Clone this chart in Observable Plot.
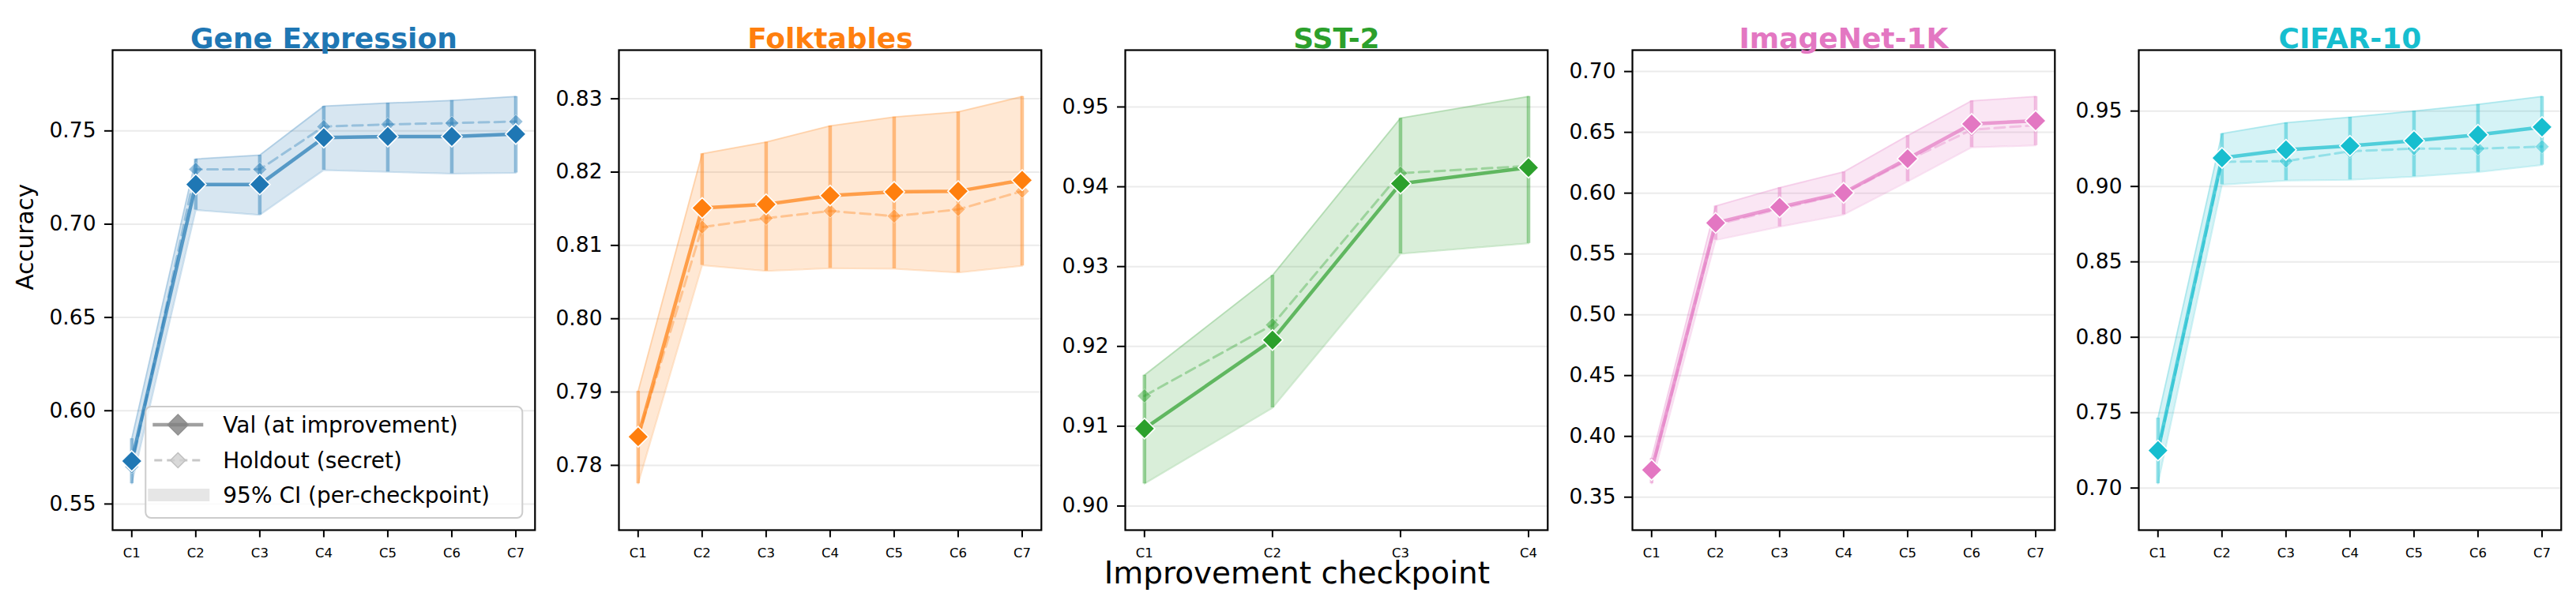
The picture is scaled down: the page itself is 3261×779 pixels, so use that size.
<!DOCTYPE html>
<html>
<head>
<meta charset="utf-8">
<script src="https://cdn.jsdelivr.net/npm/d3@7"></script>
<script src="https://cdn.jsdelivr.net/npm/@observablehq/plot@0.6"></script>
<style>
  html, body { margin: 0; padding: 0; background: #fff; }
  #fig { position: relative; width: 3261px; height: 779px; overflow: hidden; background: #fff; }
  #fig svg { position: absolute; top: 0; }
</style>
</head>
<body>
<div id="fig"></div>
<script>
// Checkpoint labels
const checkpoints7 = ["C1", "C2", "C3", "C4", "C5", "C6", "C7"];
const checkpoints4 = ["C1", "C2", "C3", "C4"];

// Gene Expression
const geneVal     = [0.5730, 0.7213, 0.7213, 0.7464, 0.7470, 0.7470, 0.7483];
const geneHoldout = [0.5700, 0.7294, 0.7294, 0.7523, 0.7535, 0.7542, 0.7550];
const geneLo      = [0.5609, 0.7076, 0.7050, 0.7290, 0.7280, 0.7271, 0.7275];
const geneHi      = [0.5850, 0.7349, 0.7370, 0.7632, 0.7649, 0.7663, 0.7684];

// Folktables
const folkVal     = [0.7839, 0.8151, 0.8156, 0.8168, 0.8173, 0.8174, 0.8189];
const folkHoldout = [0.7838, 0.8125, 0.8137, 0.8147, 0.8140, 0.8149, 0.8174];
const folkLo      = [0.7775, 0.8073, 0.8065, 0.8069, 0.8068, 0.8063, 0.8072];
const folkHi      = [0.7901, 0.8225, 0.8241, 0.8263, 0.8275, 0.8282, 0.8303];

// SST-2
const sstVal      = [0.9097, 0.9208, 0.9404, 0.9424];
const sstHoldout  = [0.9138, 0.9227, 0.9417, 0.9426];
const sstLo       = [0.9028, 0.9123, 0.9316, 0.9329];
const sstHi       = [0.9164, 0.9289, 0.9486, 0.9513];

// ImageNet-1K
const imnVal      = [0.3724, 0.5755, 0.5884, 0.6003, 0.6283, 0.6569, 0.6595];
const imnHoldout  = [0.3710, 0.5740, 0.5870, 0.5995, 0.6270, 0.6521, 0.6559];
const imnLo       = [0.3611, 0.5614, 0.5724, 0.5823, 0.6096, 0.6376, 0.6392];
const imnHi       = [0.3820, 0.5894, 0.6045, 0.6174, 0.6473, 0.6759, 0.6794];

// CIFAR-10
const cifarVal     = [0.7249, 0.9189, 0.9243, 0.9269, 0.9303, 0.9342, 0.9394];
const cifarHoldout = [0.7240, 0.9163, 0.9168, 0.9233, 0.9251, 0.9251, 0.9264];
const cifarLo      = [0.7029, 0.9012, 0.9039, 0.9044, 0.9065, 0.9095, 0.9142];
const cifarHi      = [0.7464, 0.9350, 0.9422, 0.9459, 0.9500, 0.9544, 0.9596];

// Y tick labels per panel
const geneTicks  = [0.55, 0.60, 0.65, 0.70, 0.75];
const folkTicks  = [0.78, 0.79, 0.80, 0.81, 0.82, 0.83];
const sstTicks   = [0.90, 0.91, 0.92, 0.93, 0.94, 0.95];
const imnTicks   = [0.35, 0.40, 0.45, 0.50, 0.55, 0.60, 0.65, 0.70];
const cifarTicks = [0.70, 0.75, 0.80, 0.85, 0.90, 0.95];

const legendLabels = ["Val (at improvement)", "Holdout (secret)", "95% CI (per-checkpoint)"];

const panels = [
  {title: "Gene Expression", color: "#1f77b4", labels: checkpoints7, val: geneVal, hold: geneHoldout, lo: geneLo, hi: geneHi, ticks: geneTicks},
  {title: "Folktables",      color: "#ff7f0e", labels: checkpoints7, val: folkVal, hold: folkHoldout, lo: folkLo, hi: folkHi, ticks: folkTicks},
  {title: "SST-2",           color: "#2ca02c", labels: checkpoints4, val: sstVal,  hold: sstHoldout,  lo: sstLo,  hi: sstHi,  ticks: sstTicks},
  {title: "ImageNet-1K",     color: "#e377c2", labels: checkpoints7, val: imnVal,  hold: imnHoldout,  lo: imnLo,  hi: imnHi,  ticks: imnTicks},
  {title: "CIFAR-10",        color: "#17becf", labels: checkpoints7, val: cifarVal, hold: cifarHoldout, lo: cifarLo, hi: cifarHi, ticks: cifarTicks}
];

// Layout of the five axes boxes
const frameLefts = [141.7, 782.7, 1424, 2066, 2706.7];
const frameW = 534.8;
const mL = 130, mR = 14, mT = 63, mB = 108, H = 779;
const FONT = "DejaVu Sans";

const fig = document.getElementById("fig");

panels.forEach((p, k) => {
  const n = p.labels.length;
  const rows = p.labels.map((c, i) => ({i, val: p.val[i], hold: p.hold[i], lo: p.lo[i], hi: p.hi[i]}));
  const xPad = 0.05 * (n - 1);
  // y range: confidence band extent plus 12% headroom on each side
  const yMin = d3.min(p.lo), yMax = d3.max(p.hi), yr = yMax - yMin;
  const yDomain = [yMin - 0.12 * yr, yMax + 0.12 * yr];

  const marks = [
    Plot.gridY(p.ticks, {stroke: "#ebebeb", strokeOpacity: 1, strokeWidth: 2}),
    Plot.areaY(rows, {x: "i", y1: "lo", y2: "hi", fill: p.color, fillOpacity: 0.18}),
    Plot.lineY(rows, {x: "i", y: "lo", stroke: p.color, strokeOpacity: 0.22, strokeWidth: 2}),
    Plot.lineY(rows, {x: "i", y: "hi", stroke: p.color, strokeOpacity: 0.22, strokeWidth: 2}),
    Plot.ruleX(rows, {x: "i", y1: "lo", y2: "hi", stroke: p.color, strokeOpacity: 0.45, strokeWidth: 4.5}),
    Plot.lineY(rows, {x: "i", y: "hold", stroke: p.color, strokeOpacity: 0.35, strokeWidth: 3, strokeDasharray: "13,7"}),
    Plot.dot(rows, {x: "i", y: "hold", symbol: "diamond2", r: 8, fill: p.color, fillOpacity: 0.45, stroke: "white", strokeOpacity: 0.5, strokeWidth: 1}),
    Plot.lineY(rows, {x: "i", y: "val", stroke: p.color, strokeOpacity: 0.7, strokeWidth: 4.5}),
    Plot.dot(rows, {x: "i", y: "val", symbol: "diamond2", r: 11.8, fill: p.color, stroke: "white", strokeWidth: 1.6}),
    Plot.frame({stroke: "black", strokeWidth: 2.2}),
    Plot.axisY(p.ticks, {tickFormat: d3.format(".2f"), tickSize: 10, tickPadding: 11, fontSize: 26.5, strokeWidth: 2, label: null}),
    Plot.axisX(d3.range(n), {tickFormat: i => p.labels[i], tickSize: 9.5, tickPadding: 13, fontSize: 16.5, strokeWidth: 2, label: null}),
    Plot.text([p.title], {frameAnchor: "top", dy: -28, fontSize: 36, fontWeight: "bold", fill: p.color})
  ];
  if (k === 0) {
    marks.push(Plot.text(["Accuracy"], {frameAnchor: "left", dx: -109.5, rotate: -90, fontSize: 29.5, fill: "black"}));
  }
  if (k === 2) {
    marks.push(Plot.text(["Improvement checkpoint"], {frameAnchor: "bottom", dx: -50, dy: 68, fontSize: 39, fill: "black"}));
  }

  const svg = Plot.plot({
    width: mL + frameW + mR,
    height: H,
    marginLeft: mL, marginRight: mR, marginTop: mT, marginBottom: mB,
    style: {fontFamily: FONT, color: "#000", background: "transparent", overflow: "visible"},
    x: {type: "linear", domain: [-xPad, n - 1 + xPad], axis: null},
    y: {type: "linear", domain: yDomain, axis: null},
    marks
  });
  svg.style.left = (frameLefts[k] - mL) + "px";
  fig.appendChild(svg);

  // Legend box inside the first panel
  if (k === 0) {
    const ox = frameLefts[0] - mL;
    const g = d3.select(svg).append("g").attr("font-family", FONT).attr("text-anchor", "start");
    g.append("rect")
      .attr("x", 184 - ox).attr("y", 515).attr("width", 477).attr("height", 141)
      .attr("rx", 7).attr("fill", "white").attr("fill-opacity", 0.8)
      .attr("stroke", "#cccccc").attr("stroke-width", 2);
    const hx0 = 193 - ox, hx1 = 257 - ox, hc = (hx0 + hx1) / 2, tx = 282 - ox;
    const rowsY = [538, 583, 627];
    const dia = s => `M0,${-s}L${s},0L0,${s}L${-s},0Z`;
    // Val handle
    g.append("line").attr("x1", hx0).attr("x2", hx1).attr("y1", rowsY[0]).attr("y2", rowsY[0])
      .attr("stroke", "#808080").attr("stroke-opacity", 0.75).attr("stroke-width", 4.5);
    g.append("path").attr("d", dia(13)).attr("transform", `translate(${hc},${rowsY[0]})`)
      .attr("fill", "#808080").attr("fill-opacity", 0.8).attr("stroke", "#909090").attr("stroke-width", 1.5);
    // Holdout handle
    g.append("line").attr("x1", hx0 + 2).attr("x2", hx1).attr("y1", rowsY[1]).attr("y2", rowsY[1])
      .attr("stroke", "#c8c8c8").attr("stroke-width", 3).attr("stroke-dasharray", "10,6");
    g.append("path").attr("d", dia(9.5)).attr("transform", `translate(${hc},${rowsY[1]})`)
      .attr("fill", "#d0d0d0").attr("fill-opacity", 0.8).attr("stroke", "#c0c0c0").attr("stroke-width", 1.5);
    // CI handle
    g.append("rect").attr("x", 187 - ox).attr("y", 619).attr("width", 78).attr("height", 16)
      .attr("fill", "#e6e6e6");
    legendLabels.forEach((t, j) => {
      g.append("text").attr("x", tx).attr("y", rowsY[j]).attr("dy", "0.36em")
        .attr("font-size", 28).attr("fill", "black").text(t);
    });
  }
});
</script>
</body>
</html>
